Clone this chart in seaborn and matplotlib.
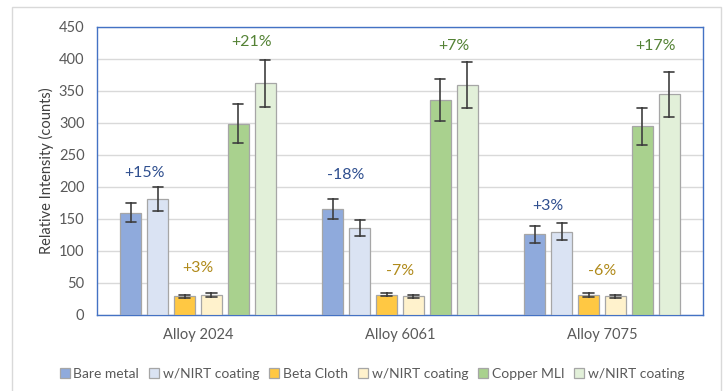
import pandas as pd
import numpy as np
import seaborn as sns
import matplotlib.pyplot as plt
from matplotlib.patches import Rectangle

alloys = ['Alloy 2024', 'Alloy 6061', 'Alloy 7075']
series = ['Bare metal', 'w/NIRT coating', 'Beta Cloth', 'w/NIRT coating', 'Copper MLI', 'w/NIRT coating']

# mean counts per alloy, one list per series
bare = [160, 166, 126]
bare_nirt = [181, 136, 130]
beta = [29, 32, 31]
beta_nirt = [31, 29, 29]
copper = [299, 336, 295]
copper_nirt = [362, 359, 345]

# error bar half-widths
bare_err = [15, 16, 13]
bare_nirt_err = [19, 13, 13]
beta_err = [3, 3, 3]
beta_nirt_err = [3, 2, 2]
copper_err = [30, 33, 29]
copper_nirt_err = [37, 36, 35]

# change labels per alloy: (bare pair, beta pair, copper pair)
changes = [['+15%', '+3%', '+21%'],
           ['-18%', '-7%', '+7%'],
           ['+3%', '-6%', '+17%']]
label_y = [[222, 73, 426],
           [219, 69, 420],
           [170, 69, 420]]

colors = ['#8faadc', '#dae3f3', '#ffc843', '#fff2cc', '#a9d18e', '#e2f0d9']
text_colors = ['#2f4f8f', '#b08a1a', '#548235']

values = [bare, bare_nirt, beta, beta_nirt, copper, copper_nirt]
errors = [bare_err, bare_nirt_err, beta_err, beta_nirt_err, copper_err, copper_nirt_err]

# two rows per bar (mean - err, mean + err) so seaborn draws mean and range
rows = []
for s, (vals, errs) in enumerate(zip(values, errors)):
    for a, alloy in enumerate(alloys):
        for sign in (-1, 1):
            rows.append({'Alloy': alloy, 'Series': f's{s}', 'Counts': vals[a] + sign * errs[a]})
df = pd.DataFrame(rows)

sns.set_style('white')
plt.rcParams['font.family'] = ['Lato', 'DejaVu Sans']

fig, ax = plt.subplots(figsize=(7.26, 3.91), dpi=100)
fig.subplots_adjust(left=97/726, right=703/726, top=1-27/391, bottom=1-315/391)

sns.barplot(data=df, x='Alloy', y='Counts', hue='Series', order=alloys,
            hue_order=[f's{i}' for i in range(6)], palette=colors, saturation=1,
            errorbar=lambda v: (v.min(), v.max()), capsize=0.3, gap=0.2,
            err_kws={'color': '#3f3f3f', 'linewidth': 1.2, 'zorder': 5},
            edgecolor='#a6a6a6', linewidth=0.9, ax=ax, zorder=3)

ax.set_ylim(0, 450)
ax.set_yticks(np.arange(0, 451, 50))
ax.grid(axis='y', color='#d9d9d9', linewidth=1, zorder=0)
ax.set_axisbelow(True)
ax.tick_params(length=0, labelsize=10.5, labelcolor='#595959', pad=9)
ax.set_xlabel('')
ax.set_ylabel('Relative Intensity (counts)', fontsize=10.5, color='#404040')
ax.yaxis.set_label_coords((54 - 97) / 606, 0.5)
for sp in ax.spines.values():
    sp.set_color('#4472c4')
    sp.set_linewidth(1.0)

# percentage labels over each pair of bars
for a in range(len(alloys)):
    for p in range(3):
        b1 = ax.containers[2 * p][a]
        b2 = ax.containers[2 * p + 1][a]
        xc = (b1.get_x() + b2.get_x() + b2.get_width()) / 2
        ax.text(xc, label_y[a][p], changes[a][p], ha='center', va='center',
                fontsize=11.5, color=text_colors[p])

handles, _ = ax.get_legend_handles_labels()
ax.legend_.remove()
fig.legend(handles, series, loc='center', bbox_to_anchor=(372/726, 17/391), ncol=6,
           frameon=False, fontsize=10, handlelength=0.75, handleheight=0.75,
           handletextpad=0.25, columnspacing=0.7, labelcolor='#595959')

fig.patches.append(Rectangle((12/726, -0.01), (721-12)/726, 1-7/391+0.01,
                             transform=fig.transFigure, fill=False,
                             edgecolor='#d9d9d9', linewidth=1))

plt.savefig('out.png', dpi=100)
